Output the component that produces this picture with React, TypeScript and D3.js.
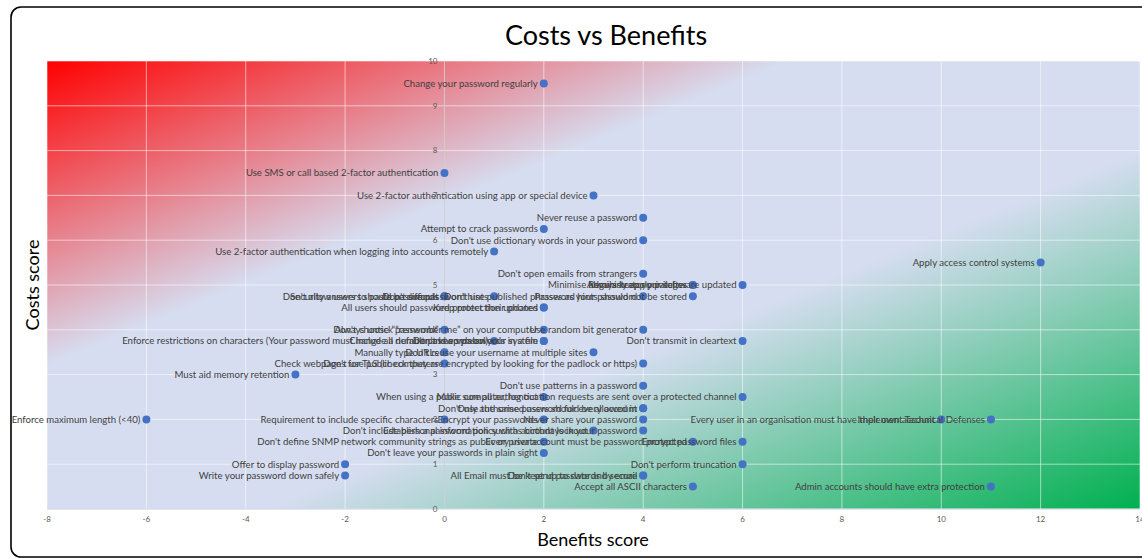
import React from "react";
import * as d3 from "d3";

const labels: string[] = [
  "Change your password regularly",
  "Use SMS or call based 2-factor authentication",
  "Use 2-factor authentication using app or special device",
  "Never reuse a password",
  "Attempt to crack passwords",
  "Don't use dictionary words in your password",
  "Use 2-factor authentication when logging into accounts remotely",
  "Apply access control systems",
  "Don't open emails from strangers",
  "Minimise administrator privileges",
  "Regularly apply patches",
  "Always keep your software updated",
  "Don't allow users to paste passwords",
  "Security answers should be difficult",
  "Don't use password hints",
  "Don't use published phrases as your password",
  "Password hints should not be stored",
  "All users should password protect their phones",
  "Keep protection updated",
  "Don't choose \u201Cpassword\u201D",
  "Always untick \u201Cremember me\u201D on your computer",
  "Use random bit generator",
  "Enforce restrictions on characters (Your password must include a number and a symbol)",
  "Change all default passwords on your system",
  "Don't keep passwords in a file",
  "Don't transmit in cleartext",
  "Manually type URLs",
  "Don't reuse your username at multiple sites",
  "Don't use public computers",
  "Check webpages for TLS (check they are encrypted by looking for the padlock or https)",
  "Must aid memory retention",
  "Don't use patterns in a password",
  "When using a public computer, log out",
  "Make sure all authentication requests are sent over a protected channel",
  "Don't use the same password for every account",
  "Only authorised users should be allowed in",
  "Enforce maximum length (<40)",
  "Requirement to include specific characters",
  "Encrypt your passwords",
  "Never share your password",
  "Every user in an organisation must have their own account",
  "Implement Technical Defenses",
  "Don't include personal information such as birthdays in your password",
  "Establish a password policy with account lockout",
  "Don't define SNMP network community strings as public or private",
  "Every user account must be password protected",
  "Encrypt password files",
  "Don't leave your passwords in plain sight",
  "Offer to display password",
  "Don't perform truncation",
  "Write your password down safely",
  "All Email must be kept up to date and secure",
  "Don't send passwords by email",
  "Accept all ASCII characters",
  "Admin accounts should have extra protection",
];

const benefits: number[] = [
  2, 0, 3, 4, 2, 4, 1, 12, 4, 5, 5, 6, 0, 0, 1, 4, 5, 2, 2, 0, 2, 4, 1, 2, 2, 6, 0, 3, 0, 4,
  -3, 4, 2, 6, 4, 4, -6, 0, 2, 4, 10, 11, 4, 3, 2, 5, 6, 2, -2, 6, -2, 4, 4, 5, 11,
];

const costs: number[] = [
  9.5, 7.5, 7, 6.5, 6.25, 6, 5.75, 5.5, 5.25, 5, 5, 5, 4.75, 4.75, 4.75, 4.75, 4.75, 4.5, 4.5, 4,
  4, 4, 3.75, 3.75, 3.75, 3.75, 3.5, 3.5, 3.25, 3.25, 3, 2.75, 2.5, 2.5, 2.25, 2.25, 2, 2, 2, 2,
  2, 2, 1.75, 1.75, 1.5, 1.5, 1.5, 1.25, 1, 1, 0.75, 0.75, 0.75, 0.5, 0.5,
];

const xTicks: number[] = [-8, -6, -4, -2, 0, 2, 4, 6, 8, 10, 12, 14];
const yTicks: number[] = [0, 1, 2, 3, 4, 5, 6, 7, 8, 9, 10];

const title = "Costs vs Benefits";
const xTitle = "Benefits score";
const yTitle = "Costs score";

const W = 1142;
const H = 559;
const M = { left: 47, right: 1140, top: 61, bottom: 509 };

export default function App() {
  const x = d3.scaleLinear().domain([-8, 14]).range([M.left, M.right]);
  const y = d3.scaleLinear().domain([0, 10]).range([M.bottom, M.top]);
  const font = "Lato, 'Open Sans', sans-serif";
  const points = labels.map((l, i) => ({ label: l, bx: benefits[i], cy: costs[i] }));

  return (
    <svg
      width={W}
      height={H}
      style={{ position: "absolute", left: 0, top: 0, background: "#fff" }}
      fontFamily={font}
    >
      <defs>
        <linearGradient id="bg" x1="0" y1="0" x2="1" y2="1">
          <stop offset="0" stopColor="#FF0000" />
          <stop offset="0.34" stopColor="#D6DDF0" />
          <stop offset="0.6" stopColor="#D6DDF0" />
          <stop offset="1" stopColor="#00B050" />
        </linearGradient>
      </defs>
      <rect x={11} y={7} width={1150} height={550} rx={10} fill="#fff" stroke="#000" strokeWidth={1.6} />
      <text x={606} y={45} textAnchor="middle" fontSize={27} fill="#000">
        {title}
      </text>
      <rect
        x={M.left}
        y={M.top}
        width={M.right - M.left}
        height={M.bottom - M.top}
        fill="url(#bg)"
      />
      {yTicks.map((t) => (
        <line
          key={"gy" + t}
          x1={M.left}
          x2={M.right}
          y1={y(t)}
          y2={y(t)}
          stroke="#ffffff"
          strokeOpacity={0.55}
          strokeWidth={1}
        />
      ))}
      {xTicks.map((t) => (
        <line
          key={"gx" + t}
          x1={x(t)}
          x2={x(t)}
          y1={M.top}
          y2={M.bottom}
          stroke={t === 0 ? "#cfcfcf" : "#ffffff"}
          strokeOpacity={t === 0 ? 0.9 : 0.55}
          strokeWidth={1}
        />
      ))}
      <line x1={M.left} x2={M.right} y1={y(0)} y2={y(0)} stroke="#c8cfe0" strokeWidth={1} />
      {xTicks.map((t) => (
        <text key={"tx" + t} x={x(t)} y={522} textAnchor="middle" fontSize={8} fill="#595959">
          {t}
        </text>
      ))}
      {yTicks.map((t) => (
        <text
          key={"ty" + t}
          x={x(0) - 7}
          y={y(t)}
          dy="0.35em"
          textAnchor="end"
          fontSize={8}
          fill="#595959"
        >
          {t}
        </text>
      ))}
      {points.map((p, i) => (
        <circle key={"c" + i} cx={x(p.bx)} cy={y(p.cy)} r={4} fill="#4472C4" />
      ))}
      {points.map((p, i) => (
        <text
          key={"l" + i}
          x={x(p.bx) - 6}
          y={y(p.cy)}
          dy="0.35em"
          textAnchor="end"
          fontSize={9.6}
          fill="#404040"
        >
          {p.label}
        </text>
      ))}
      <text x={593} y={546} textAnchor="middle" fontSize={18} fill="#000">
        {xTitle}
      </text>
      <text
        transform={`translate(39,${(M.top + M.bottom) / 2}) rotate(-90)`}
        textAnchor="middle"
        fontSize={18}
        fill="#000"
      >
        {yTitle}
      </text>
    </svg>
  );
}
